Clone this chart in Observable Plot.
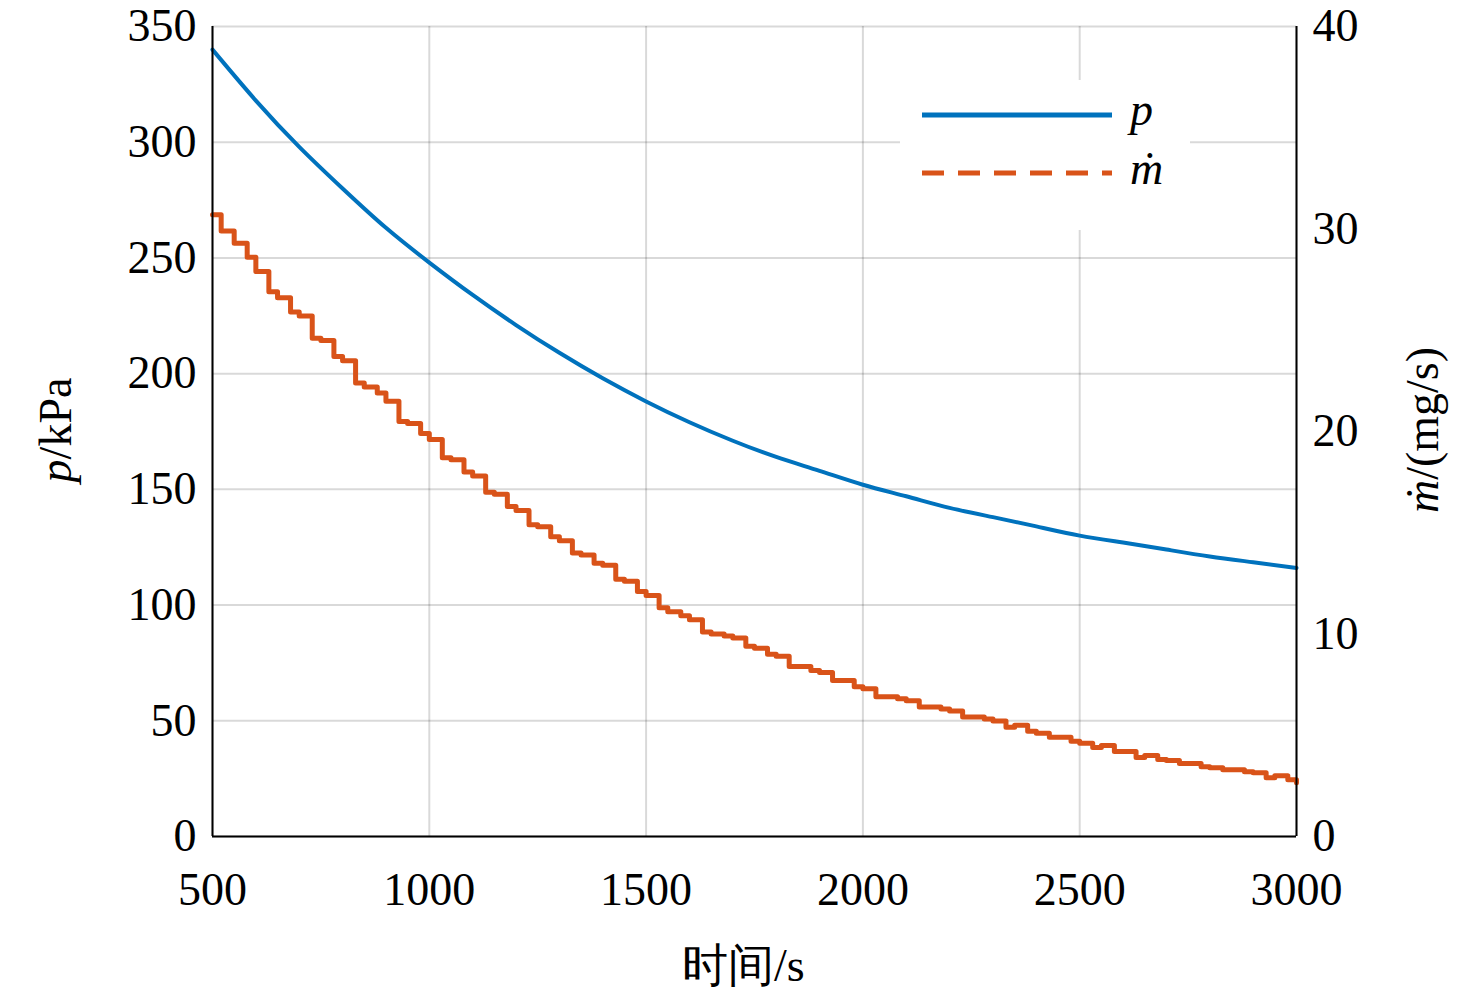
<!DOCTYPE html>
<html><head><meta charset="utf-8">
<script src="https://cdn.jsdelivr.net/npm/d3@7"></script>
<script src="https://cdn.jsdelivr.net/npm/@observablehq/plot@0.6"></script>
<style>
body{margin:0;background:#fff;font-family:"Liberation Serif",serif;}
#wrap{position:relative;width:1476px;height:1000px;}
#wrap svg text{font-family:"Liberation Serif",serif;}
.lbl{position:absolute;font-size:46px;color:#000;white-space:nowrap;}
</style></head><body><div id="wrap"></div>
<script>
const timeP=[500,600,700,800,900,1000,1100,1200,1300,1400,1500,1600,1700,1800,1900,2000,2100,2200,2300,2400,2500,2600,2700,2800,2900,3000];
const pValues=[340,318,298,280,263,248,234,221,209,198,188,179,171,164,158,152,147,142,138,134,130,127,124,121,118.5,116];
const timeM=[500,520,550,580,600,630,650,680,700,730,750,780,800,830,850,880,900,930,950,980,1000,1030,1050,1080,1100,1130,1150,1180,1200,1230,1250,1280,1300,1330,1350,1380,1400,1430,1450,1480,1500,1530,1550,1580,1600,1630,1650,1680,1700,1730,1750,1780,1800,1830,1850,1880,1900,1930,1950,1980,2000,2030,2050,2080,2100,2130,2150,2180,2200,2230,2250,2280,2300,2330,2350,2380,2400,2430,2450,2480,2500,2530,2550,2580,2600,2630,2650,2680,2700,2730,2750,2780,2800,2830,2850,2880,2900,2930,2950,2980,3000];
const mValues=[30.7,29.9,29.3,28.6,27.9,26.9,26.6,25.9,25.7,24.6,24.5,23.7,23.5,22.4,22.2,21.9,21.5,20.5,20.4,19.9,19.6,18.7,18.6,18.0,17.8,17.0,16.9,16.3,16.1,15.4,15.3,14.8,14.6,14.0,13.9,13.5,13.4,12.7,12.6,12.1,11.9,11.3,11.1,10.9,10.7,10.1,10.0,9.9,9.8,9.4,9.3,9.0,8.9,8.4,8.4,8.2,8.1,7.7,7.7,7.4,7.3,6.9,6.9,6.8,6.7,6.4,6.4,6.3,6.2,5.9,5.9,5.8,5.7,5.4,5.5,5.2,5.1,4.9,4.9,4.7,4.6,4.4,4.5,4.2,4.2,3.9,4.0,3.8,3.75,3.6,3.6,3.45,3.4,3.3,3.3,3.2,3.15,2.9,3.0,2.8,2.65];
const xTicks=[500,1000,1500,2000,2500,3000];
const yTicks=[0,50,100,150,200,250,300,350];
const rTicks=[0,10,20,30,40];
const K=350/40;
const pData=timeP.map((t,i)=>({t,v:pValues[i]}));
const mData=timeM.map((t,i)=>({t,v:mValues[i]*K}));
const chart=Plot.plot({
  width:1476,height:1000,marginLeft:212,marginRight:180,marginTop:26,marginBottom:164,
  style:{fontFamily:"Liberation Serif, serif",fontSize:"46px",color:"#000",background:"#fff"},
  x:{domain:[500,3000]},y:{domain:[0,350]},
  marks:[
    Plot.gridX(xTicks,{stroke:"#000",strokeOpacity:0.15,strokeWidth:2}),
    Plot.gridY(yTicks,{stroke:"#000",strokeOpacity:0.15,strokeWidth:2}),
    Plot.line(mData,{x:"t",y:"v",stroke:"#D95319",strokeWidth:5,curve:"step-after"}),
    Plot.line(pData,{x:"t",y:"v",stroke:"#0072BD",strokeWidth:4,curve:"natural"}),
    Plot.axisX({ticks:xTicks,tickFormat:d=>String(d),tickSize:0,tickPadding:36,label:null,fontSize:46}),
    Plot.axisY({ticks:yTicks,tickFormat:d=>String(d),tickSize:0,tickPadding:16,label:null,fontSize:46}),
    Plot.axisY({anchor:"right",ticks:rTicks.map(d=>d*K),tickFormat:d=>String(Math.round(d/K)),tickSize:0,tickPadding:16,label:null,fontSize:46}),
    Plot.ruleX([500,3000],{stroke:"#000",strokeWidth:2}),
    Plot.ruleY([0],{stroke:"#000",strokeWidth:2})
  ]
});
const wrap=document.getElementById("wrap");
wrap.appendChild(chart);
wrap.insertAdjacentHTML("beforeend",`
<div style="position:absolute;left:900px;top:80px;width:290px;height:150px;background:#fff;"></div>
<svg style="position:absolute;left:900px;top:80px" width="290" height="150">
<line x1="22" y1="35" x2="212" y2="35" stroke="#0072BD" stroke-width="5"/>
<line x1="22" y1="93" x2="212" y2="93" stroke="#D95319" stroke-width="5" stroke-dasharray="22,14"/>
<text x="230" y="45" font-style="italic" font-size="46">p</text>
<text x="230" y="104" font-style="italic" font-size="46">ṁ</text>
</svg>
<div class="lbl" style="left:682px;top:935px;">时间/s</div>
<div class="lbl" style="left:55px;top:430px;transform:translate(-50%,-50%) rotate(-90deg);"><i>p</i>/kPa</div>
<div class="lbl" style="left:1422px;top:430px;transform:translate(-50%,-50%) rotate(-90deg);"><i>ṁ</i>/(mg/s)</div>
`);
</script></body></html>
